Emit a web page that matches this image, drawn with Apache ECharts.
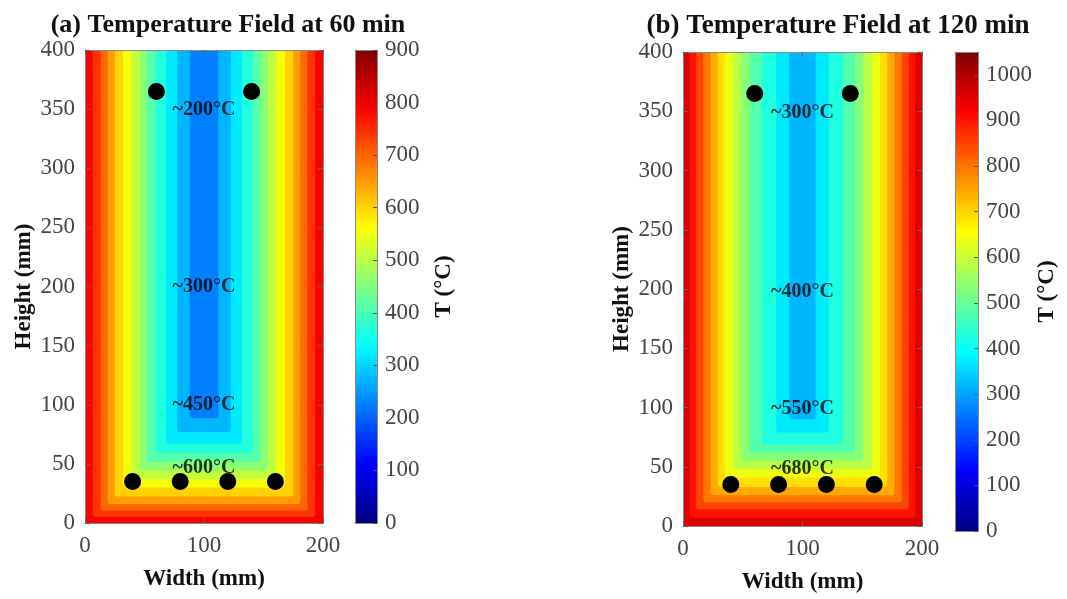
<!DOCTYPE html>
<html><head><meta charset="utf-8">
<script src="https://cdn.jsdelivr.net/npm/echarts@6/dist/echarts.min.js"></script>
<style>html,body{margin:0;padding:0;background:#fff}#c{width:1067px;height:599px}</style>
</head><body><div id="c"></div>
<script>
// ---------- data ----------
const titleA = '(a) Temperature Field at 60 min';
const titleB = '(b) Temperature Field at 120 min';
const xTickVals = [0, 100, 200];
const yTickVals = [0, 50, 100, 150, 200, 250, 300, 350, 400];
const cbTicksA = [0, 100, 200, 300, 400, 500, 600, 700, 800, 900];
const cbTicksB = [0, 100, 200, 300, 400, 500, 600, 700, 800, 900, 1000];
const cbMaxA = 900;
const cbMaxB = 1050;
// contour band temperatures, from heated faces towards the core (°C)
const levelsA = [790, 743, 696, 649, 602, 555, 508, 461, 414, 367, 320, 273, 226];
// distance (mm) from side faces / bottom face where each band ends
const sideEdgesA = [6.5, 13, 19, 25, 32, 39, 46, 52, 59, 68, 77.5, 88];
const bottomEdgesA = [5, 10.5, 16, 22.5, 30, 37, 44.5, 51.5, 59, 67, 77, 88.5];
const levelsB = [955, 902, 849, 796, 743, 690, 637, 584, 531, 478, 425, 372, 319];
const sideEdgesB = [5.5, 11, 17, 23, 29, 35, 42, 49, 56, 66, 78, 89];
const bottomEdgesB = [7, 14, 20, 26, 33, 41, 48, 55, 62, 69, 79, 90];
// rebar positions (mm)
const rebarX = [60, 140, 40, 80, 120, 160];
const rebarY = [365, 365, 35, 35, 35, 35];
// annotations
const noteX = 100;
const notesA = ['~200°C', '~300°C', '~450°C', '~600°C'];
const notesYA = [349, 200, 100, 47];
const notesB = ['~300°C', '~400°C', '~550°C', '~680°C'];
const notesYB = [349, 198, 99, 48];
const sectionW = 200, sectionH = 400;

// ---------- build ----------
const jet = ['#00007F', '#0000FF', '#007FFF', '#00FFFF', '#7FFF7F', '#FFFF00', '#FF7F00', '#FF0000', '#7F0000'];
const FONT = "'Liberation Serif','Times New Roman',serif";

function bands(levels, side, bottom) {
  return levels.map((t, i) => {
    const s = i === 0 ? 0 : side[i - 1];
    const b = i === 0 ? 0 : bottom[i - 1];
    return [s, sectionW - s, b, sectionH, t];
  });
}

function bandItem(params, api) {
  const p0 = api.coord([api.value(0), api.value(2)]);
  const p1 = api.coord([api.value(1), api.value(3)]);
  const r = params.dataIndex === 0 ? 0 : 3;
  return {
    type: 'rect',
    shape: { x: p0[0], y: p1[1], width: p1[0] - p0[0], height: p0[1] - p1[1], r: [0, 0, r, r] },
    style: { fill: api.visual('color') }
  };
}

function cbItem(params, api) {
  const p0 = api.coord([0, api.value(0)]);
  const p1 = api.coord([1, api.value(1)]);
  const stops = jet.map((c, i) => ({ offset: i / (jet.length - 1), color: c }));
  return {
    type: 'rect',
    shape: { x: p0[0], y: p1[1], width: p1[0] - p0[0], height: p0[1] - p1[1] },
    style: { fill: new echarts.graphic.LinearGradient(0, 1, 0, 0, stops) }
  };
}

const lineCol = '#8a8a8a';
const tickLabel = { fontFamily: FONT, fontSize: 23, color: '#444', formatter: v => String(v) };
const nameStyle = { fontFamily: FONT, fontSize: 23, fontWeight: 'bold', color: '#111' };

function ax(o) {
  return Object.assign({
    type: 'value', z: 5,
    splitLine: { show: false },
    axisLine: { show: true, onZero: false, lineStyle: { color: lineCol, width: 1 } },
    axisTick: { show: true, inside: true, length: 5, lineStyle: { color: '#666' } },
    axisLabel: { show: false }
  }, o);
}

const xAxes = [], yAxes = [];
function mainAxes(g) {
  xAxes.push(ax({ gridIndex: g, min: 0, max: sectionW, position: 'bottom',
    axisTick: { show: true, inside: true, length: 5, customValues: xTickVals, lineStyle: { color: '#666' } },
    axisLabel: Object.assign({ show: true, margin: 11, customValues: xTickVals }, tickLabel),
    name: 'Width (mm)', nameLocation: 'middle', nameGap: 45, nameTextStyle: nameStyle }));
  xAxes.push(ax({ gridIndex: g, min: 0, max: sectionW, position: 'top',
    axisTick: { show: true, inside: true, length: 5, customValues: xTickVals, lineStyle: { color: '#666' } } }));
  yAxes.push(ax({ gridIndex: g, min: 0, max: sectionH, position: 'left',
    axisTick: { show: true, inside: true, length: 5, customValues: yTickVals, lineStyle: { color: '#666' } },
    axisLabel: Object.assign({ show: true, margin: 10, customValues: yTickVals }, tickLabel),
    name: 'Height (mm)', nameLocation: 'middle', nameGap: 49, nameTextStyle: nameStyle }));
  yAxes.push(ax({ gridIndex: g, min: 0, max: sectionH, position: 'right',
    axisTick: { show: true, inside: true, length: 5, customValues: yTickVals, lineStyle: { color: '#666' } } }));
}
function cbAxes(g, max, ticks) {
  xAxes.push(ax({ gridIndex: g, min: 0, max: 1, position: 'bottom', axisTick: { show: false } }));
  xAxes.push(ax({ gridIndex: g, min: 0, max: 1, position: 'top', axisTick: { show: false } }));
  yAxes.push(ax({ gridIndex: g, min: 0, max: max, position: 'right',
    axisTick: { show: true, inside: true, length: 4, customValues: ticks, lineStyle: { color: '#555' } },
    axisLabel: Object.assign({ show: true, margin: 8, customValues: ticks }, tickLabel),
    name: 'T (°C)', nameLocation: 'middle', nameGap: 56, nameTextStyle: nameStyle }));
  yAxes.push(ax({ gridIndex: g, min: 0, max: max, position: 'left', axisTick: { show: false } }));
}
mainAxes(0); cbAxes(1, cbMaxA, cbTicksA);
mainAxes(2); cbAxes(3, cbMaxB, cbTicksB);

function rebarSeries(xi, yi) {
  return { type: 'scatter', xAxisIndex: xi, yAxisIndex: yi, z: 4, symbolSize: 17,
    itemStyle: { color: '#000', opacity: 1 }, silent: true,
    data: rebarX.map((x, i) => [x, rebarY[i]]) };
}
function noteSeries(xi, yi, notes, ys) {
  return { type: 'scatter', xAxisIndex: xi, yAxisIndex: yi, z: 6, symbolSize: 1,
    itemStyle: { color: 'rgba(0,0,0,0)' }, silent: true,
    label: { show: true, position: 'inside', formatter: p => p.name,
      fontFamily: FONT, fontSize: 20, fontWeight: 'bold', color: '#000' },
    data: notes.map((n, i) => ({ name: n, value: [noteX, ys[i]] })) };
}

const option = {
  animation: false,
  backgroundColor: '#fff',
  title: [
    { text: titleA, left: 223, top: 7, textAlign: 'center',
      textStyle: { fontFamily: FONT, fontSize: 26, fontWeight: 'bold', color: '#111' } },
    { text: titleB, left: 833, top: 8, textAlign: 'center',
      textStyle: { fontFamily: FONT, fontSize: 27, fontWeight: 'bold', color: '#111' } }
  ],
  grid: [
    { left: 85, top: 50, width: 238, height: 473 },
    { left: 355, top: 50, width: 22, height: 473 },
    { left: 683, top: 52, width: 239, height: 479 },
    { left: 955, top: 52, width: 23, height: 479 }
  ],
  xAxis: xAxes,
  yAxis: yAxes,
  visualMap: [
    { type: 'continuous', show: false, seriesIndex: 0, dimension: 4, min: 0, max: cbMaxA, inRange: { color: jet } },
    { type: 'continuous', show: false, seriesIndex: 4, dimension: 4, min: 0, max: cbMaxB, inRange: { color: jet } }
  ],
  series: [
    { type: 'custom', xAxisIndex: 0, yAxisIndex: 0, z: 1, silent: true, renderItem: bandItem,
      encode: { x: [0, 1], y: [2, 3] }, data: bands(levelsA, sideEdgesA, bottomEdgesA) },
    rebarSeries(0, 0),
    noteSeries(0, 0, notesA, notesYA),
    { type: 'custom', xAxisIndex: 2, yAxisIndex: 2, z: 1, silent: true, renderItem: cbItem,
      encode: { y: [0, 1] }, data: [[0, cbMaxA]] },
    { type: 'custom', xAxisIndex: 4, yAxisIndex: 4, z: 1, silent: true, renderItem: bandItem,
      encode: { x: [0, 1], y: [2, 3] }, data: bands(levelsB, sideEdgesB, bottomEdgesB) },
    rebarSeries(4, 4),
    noteSeries(4, 4, notesB, notesYB),
    { type: 'custom', xAxisIndex: 6, yAxisIndex: 6, z: 1, silent: true, renderItem: cbItem,
      encode: { y: [0, 1] }, data: [[0, cbMaxB]] }
  ]
};
const chart = echarts.init(document.getElementById('c'), null, { renderer: 'canvas' });
chart.setOption(option);
</script>
</body></html>
